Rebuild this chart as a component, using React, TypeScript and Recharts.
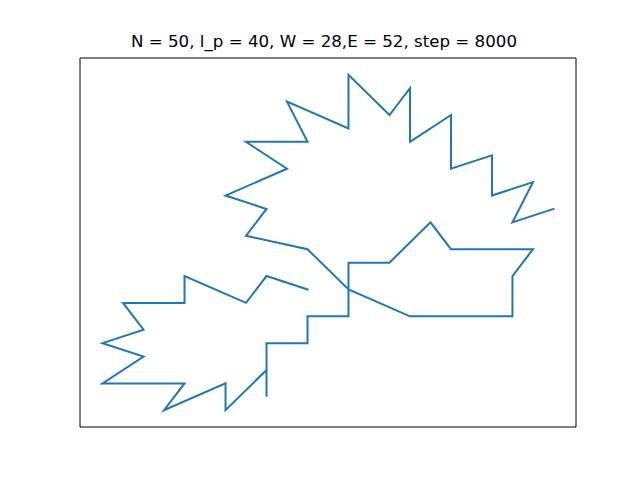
import { LineChart, Line, XAxis, YAxis, ReferenceArea } from "recharts";

// chain coordinates (lattice units)
const chainX = [
  10, 8, 7, 4, 4, 1, 2, 0, 2, 0, 4, 3, 6, 6, 8, 8, 8, 10, 10, 12, 12, 14, 16, 17, 21,
  20, 20, 15, 12, 10, 7, 8, 6, 9, 7, 10, 9, 12, 12, 14, 15, 15, 17, 17, 19, 19, 21, 20, 22,
];
const chainY = [
  9, 10, 8, 10, 8, 8, 6, 5, 4, 2, 2, 0, 2, 0, 3, 1, 5, 5, 7, 7, 11, 11, 14, 12, 12,
  10, 7, 7, 9, 12, 13, 15, 16, 18, 20, 20, 23, 21, 25, 22, 24, 20, 22, 18, 19, 16, 17, 14, 15,
];

const title = "N = 50, l_p = 40, W = 28,E = 52, step = 8000";

const data = chainX.map((x, i) => ({ x, y: chainY[i] }));

const X_DOMAIN: [number, number] = [-1.1, 23.1];
const Y_DOMAIN: [number, number] = [-1.25, 26.25];

export default function App() {
  return (
    <div
      style={{
        position: "absolute",
        left: 0,
        top: 0,
        width: 640,
        height: 480,
        background: "#fff",
        fontFamily: "DejaVu Sans, sans-serif",
      }}
    >
      <div
        style={{
          position: "absolute",
          left: 76,
          width: 496,
          top: 34,
          textAlign: "center",
          fontSize: 16.67,
          lineHeight: 1,
          color: "#000",
        }}
      >
        {title}
      </div>
      <LineChart
        width={640}
        height={480}
        data={data}
        margin={{ top: 58, right: 64, bottom: 53, left: 80 }}
      >
        <XAxis type="number" dataKey="x" domain={X_DOMAIN} allowDataOverflow hide />
        <YAxis type="number" dataKey="y" domain={Y_DOMAIN} allowDataOverflow hide />
        <ReferenceArea
          x1={X_DOMAIN[0]}
          x2={X_DOMAIN[1]}
          y1={Y_DOMAIN[0]}
          y2={Y_DOMAIN[1]}
          fill="none"
          stroke="#000"
          strokeWidth={1}
          fillOpacity={0}
        />
        <Line
          type="linear"
          dataKey="y"
          stroke="#1f77b4"
          strokeWidth={2}
          strokeLinecap="square"
          dot={false}
          activeDot={false}
          isAnimationActive={false}
        />
      </LineChart>
    </div>
  );
}
